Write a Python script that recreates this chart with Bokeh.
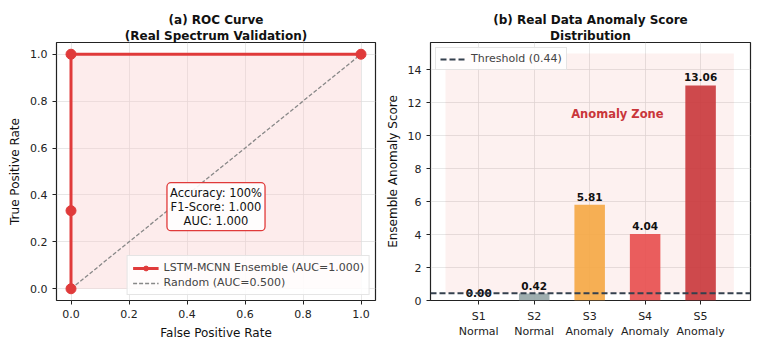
from bokeh.plotting import figure
from bokeh.layouts import row
from bokeh.models import (ColumnDataSource, Label, Legend, LegendItem, FixedTicker, Title,
                          NumeralTickFormatter)
from bokeh.core.properties import value
from bokeh.embed import file_html
from bokeh.resources import INLINE

FONT = "DejaVu Sans"

# ROC curve data
fpr = [0.0, 0.0, 0.0, 1.0]
tpr = [0.0, 0.333, 1.0, 1.0]
rand_x = [0.0, 1.0]
rand_y = [0.0, 1.0]

# Anomaly scores
samples = ["S1", "S2", "S3", "S4", "S5"]
status = ["Normal", "Normal", "Anomaly", "Anomaly", "Anomaly"]
scores = [0.00, 0.42, 5.81, 4.04, 13.06]
bar_colors = ["#95a5a6", "#95a5a6", "#f5a742", "#e84c4c", "#c9363a"]
threshold = 0.44


def style(p):
    p.outline_line_color = "#222222"
    p.outline_line_width = 1.2
    p.background_fill_color = "white"
    p.border_fill_color = "white"
    for ax in (p.xaxis, p.yaxis):
        ax.axis_line_color = None
        ax.major_tick_line_color = "#222222"
        ax.major_tick_out = 4
        ax.major_tick_in = 0
        ax.minor_tick_line_color = None
        ax.major_label_text_font = FONT
        ax.major_label_text_font_size = "11px"
        ax.major_label_text_color = "#222222"
        ax.axis_label_text_font = FONT
        ax.axis_label_text_font_size = "12px"
        ax.axis_label_text_font_style = "normal"
        ax.axis_label_text_color = "#111111"
    p.grid.grid_line_color = "#dddddd"
    p.grid.grid_line_alpha = 0.7


def add_title(p, lines):
    for line in reversed(lines):
        p.add_layout(Title(text=line, align="center", text_font=FONT,
                           text_font_size="12px", text_font_style="bold",
                           text_color="#111111", offset=0, standoff=0), "above")


# ---- (a) ROC curve ----
p1 = figure(frame_width=319, frame_height=258, output_backend="svg", toolbar_location=None,
            x_range=(-0.05, 1.05), y_range=(-0.05, 1.05),
            min_border_left=56, min_border_right=5, min_border_top=42, min_border_bottom=51)
style(p1)
add_title(p1, ["(a) ROC Curve", "(Real Spectrum Validation)"])
p1.xaxis.axis_label = "False Positive Rate"
p1.yaxis.axis_label = "True Positive Rate"
p1.xaxis.ticker = FixedTicker(ticks=[0, 0.2, 0.4, 0.6, 0.8, 1.0])
p1.yaxis.ticker = FixedTicker(ticks=[0, 0.2, 0.4, 0.6, 0.8, 1.0])
p1.xaxis.formatter = NumeralTickFormatter(format="0.0")
p1.yaxis.formatter = NumeralTickFormatter(format="0.0")

roc_src = ColumnDataSource(dict(x=fpr, y=tpr))
p1.varea(x=[0.0, 1.0], y1=[0.0, 0.0], y2=[tpr[-1], tpr[-1]], fill_color="#f8c8c8", fill_alpha=0.35)
r_rand = p1.line(rand_x, rand_y, line_color="#888888", line_width=1.3, line_dash="4 2")
r_roc = p1.line("x", "y", source=roc_src, line_color="#e03a3a", line_width=3)
r_pts = p1.scatter("x", "y", source=roc_src, size=10, fill_color="#e03a3a", line_color="#e03a3a")

p1.add_layout(Label(x=0.5, y=0.35, text="Accuracy: 100%\nF1-Score: 1.000\nAUC: 1.000",
                    text_align="center", text_baseline="middle", text_font=FONT,
                    text_font_size="11.5px", text_color="#111111",
                    background_fill_color="white", background_fill_alpha=0.9,
                    border_line_color="#e03a3a", border_line_width=1.3,
                    border_radius=4, padding=3, text_line_height=1.0))

leg1 = Legend(items=[LegendItem(label="LSTM-MCNN Ensemble (AUC=1.000)", renderers=[r_roc, r_pts]),
                     LegendItem(label="Random (AUC=0.500)", renderers=[r_rand])],
              location="bottom_right", label_text_font=FONT, label_text_font_size="11px",
              label_height=12, glyph_height=12, glyph_width=26, spacing=2, padding=5,
              margin=5, border_line_color="#cccccc", background_fill_alpha=0.85)
p1.add_layout(leg1)

# ---- (b) anomaly scores ----
xs = list(range(len(samples)))
p2 = figure(frame_width=320, frame_height=258, output_backend="svg", toolbar_location=None,
            x_range=(-0.87, 4.9), y_range=(0, 15.67),
            min_border_left=50, min_border_right=9, min_border_top=42, min_border_bottom=51)
style(p2)
add_title(p2, ["(b) Real Data Anomaly Score", "Distribution"])
p2.yaxis.axis_label = "Ensemble Anomaly Score"
p2.yaxis.ticker = FixedTicker(ticks=[0, 2, 4, 6, 8, 10, 12, 14])
p2.xaxis.ticker = FixedTicker(ticks=xs)
p2.xaxis.major_label_overrides = {i: f"{s}\n{t}" for i, (s, t) in enumerate(zip(samples, status))}

p2.quad(left=-0.6, right=4.6, bottom=threshold, top=15.0, fill_color="#e74c3c",
        fill_alpha=0.08, line_color=None)
bar_src = ColumnDataSource(dict(x=xs, top=scores, color=bar_colors,
                                lbl=[f"{v:.2f}" for v in scores]))
p2.vbar(x="x", top="top", width=0.55, source=bar_src, fill_color="color",
        line_color=None, fill_alpha=0.9)
p2.text(x="x", y="top", text="lbl", source=bar_src, text_align="center",
        text_baseline="bottom", y_offset=-4, text_font=value(FONT),
        text_font_size="10.5px", text_font_style="bold", text_color="#111111")

r_thr = p2.line(x=[-0.87, 4.9], y=[threshold, threshold], line_color="#34404e",
                line_width=2, line_dash="6 3")
p2.add_layout(Label(x=2.5, y=11.3, text="Anomaly Zone", text_align="center",
                    text_baseline="middle", text_font=FONT, text_font_size="11.5px",
                    text_font_style="bold", text_color="#c9363a"))

leg2 = Legend(items=[LegendItem(label=f"Threshold ({threshold:.2f})", renderers=[r_thr])],
              location="top_left", label_text_font=FONT, label_text_font_size="11px",
              label_height=12, glyph_height=12, glyph_width=26, padding=4, margin=5,
              border_line_color="#cccccc", background_fill_alpha=0.85)
p2.add_layout(leg2)

layout = row(p1, p2)
open("out.html", "w").write(file_html(layout, INLINE))
